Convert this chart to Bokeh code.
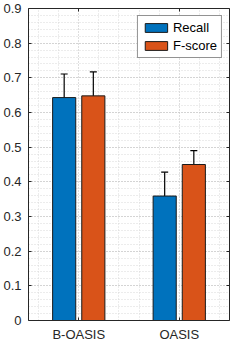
from bokeh.plotting import figure
from bokeh.models import (ColumnDataSource, Range1d, FixedTicker, SingleIntervalTicker,
                          LinearAxis, Whisker, TeeHead, Legend, LegendItem,
                          NumeralTickFormatter, CustomJSTickFormatter)
from bokeh.embed import file_html
from bokeh.resources import INLINE

categories = ["B-OASIS", "OASIS"]
recall = [0.643, 0.359]
recall_err = [0.068, 0.069]
fscore = [0.648, 0.450]
fscore_err = [0.069, 0.040]

BLUE = "#0072BD"
ORANGE = "#D95319"
AX = "#262626"
FONT = "Liberation Sans"
FS = "13px"

idx = list(range(1, len(categories) + 1))
off = 0.145
bw = 0.23

src = ColumnDataSource(dict(
    xr=[i - off for i in idx], xf=[i + off for i in idx],
    recall=recall, fscore=fscore,
    rl=[v - e for v, e in zip(recall, recall_err)],
    ru=[v + e for v, e in zip(recall, recall_err)],
    fl=[v - e for v, e in zip(fscore, fscore_err)],
    fu=[v + e for v, e in zip(fscore, fscore_err)],
))

p = figure(width=233, height=344, output_backend="svg", toolbar_location=None,
           x_range=Range1d(0.5, 2.5), y_range=Range1d(0, 0.9),
           x_axis_location=None, y_axis_location=None,
           min_border_left=2, min_border_right=2, min_border_top=8, min_border_bottom=0)
p.outline_line_color = None
p.background_fill_color = "white"

xt = FixedTicker(ticks=idx, minor_ticks=[0.6, 0.8, 1.2, 1.4, 1.6, 1.8, 2.2, 2.4])
yt = SingleIntervalTicker(interval=0.1, num_minor_ticks=5)

def style(ax, labels=True):
    ax.axis_line_color = AX
    ax.axis_line_width = 1
    ax.major_tick_line_color = AX
    ax.major_tick_in = 3
    ax.major_tick_out = 0
    ax.minor_tick_line_color = None
    ax.major_label_text_font = FONT
    ax.major_label_text_font_size = FS
    ax.major_label_text_color = AX
    ax.major_label_standoff = 3
    if not labels:
        ax.formatter = CustomJSTickFormatter(code="return ''")
        ax.major_label_standoff = 0
        ax.major_label_text_font_size = "1px"

xb = LinearAxis(ticker=xt, major_label_overrides={i: c for i, c in zip(idx, categories)})
style(xb)
xb.major_label_standoff = 2
p.add_layout(xb, "below")
yl = LinearAxis(ticker=yt, formatter=NumeralTickFormatter(format="0.[0]"))
style(yl)
p.add_layout(yl, "left")
xa = LinearAxis(ticker=xt)
style(xa, labels=False)
p.add_layout(xa, "above")
yr = LinearAxis(ticker=yt)
style(yr, labels=False)
p.add_layout(yr, "right")

p.xgrid.ticker = xt
p.ygrid.ticker = yt
for g in (p.xgrid[0], p.ygrid[0]):
    g.grid_line_color = "#bdbdbd"
    g.grid_line_dash = "1 2"
    g.grid_line_width = 1
    g.minor_grid_line_color = "#d9d9d9"
    g.minor_grid_line_dash = "1 2"
    g.minor_grid_line_width = 1

r1 = p.vbar(x="xr", top="recall", width=bw, source=src, fill_color=BLUE, line_color="#1a1a1a", line_width=1)
r2 = p.vbar(x="xf", top="fscore", width=bw, source=src, fill_color=ORANGE, line_color="#1a1a1a", line_width=1)

for base, lo, hi in (("xr", "rl", "ru"), ("xf", "fl", "fu")):
    w = Whisker(base=base, lower=lo, upper=hi, source=src,
                line_color="black", line_width=1.2,
                upper_head=TeeHead(size=7, line_color="black", line_width=1.2),
                lower_head=TeeHead(size=7, line_color="black", line_width=1.2))
    p.add_layout(w)

leg = Legend(items=[LegendItem(label="Recall", renderers=[r1]),
                    LegendItem(label="F-score", renderers=[r2])],
             location="top_right")
leg.margin = 7
leg.padding = 4
leg.spacing = 3
leg.glyph_width = 28
leg.glyph_height = 11
leg.label_standoff = 3
leg.label_text_font = FONT
leg.label_text_font_size = FS
leg.label_text_color = "black"
leg.label_height = 13
leg.border_line_color = AX
leg.border_line_width = 1
leg.background_fill_color = "white"
leg.background_fill_alpha = 1
p.add_layout(leg, "center")

open("out.html", "w").write(file_html(p, INLINE))
